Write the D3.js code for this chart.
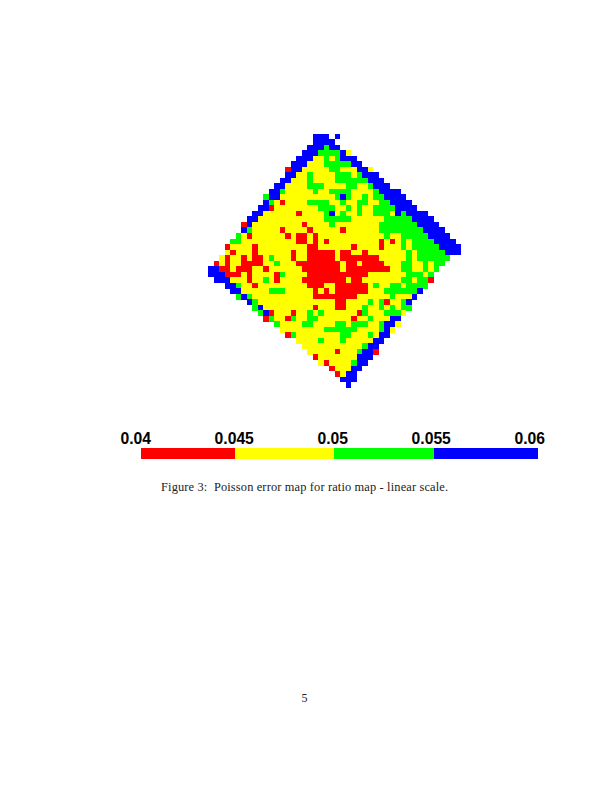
<!DOCTYPE html>
<html><head><meta charset="utf-8">
<script src="https://cdnjs.cloudflare.com/ajax/libs/d3/7.8.5/d3.min.js"></script>
<style>html,body{margin:0;padding:0;background:#fff}svg{display:block}</style>
</head><body><svg id="c" width="612" height="792"></svg>
<script>
// Error-class codes per map cell: R,Y,G,B; "." = no data. Each row starts at rowStart[i].
const rowStart = [19,19,18,17,16,15,14,14,13,12,11,10,10,9,8,7,6,6,5,4,3,3,2,1,0,0,1,3,4,5,7,8,9,10,12,13,14,16,17,18,19,20,22,23,24,25];
const rowCells = [
"BBB.B",
"BBBB",
"BBBGBB",
"BBBGGGGBY",
"BBBYYGYGBBB",
"BBBYYYGGGGGBB",
"RBBYYYYYGGYYYBBY",
"BBYYGYYYYGGGYGBBB",
"BBYYYGYYYYGGGGGGBBB",
"BBYYYYGGGYYYYGGYYGBBB",
"BBGYYYYYGYYGGGGYYYYGBBBB",
"GBBYYYYYYYYYYGBGYYGYGGBBBB",
"BGYRYYYYGGGGYYGYYGGYYGGBBBB",
"BBRYYYYYYYYGGGYYGYGYYGGGGBBBB",
"BBYYYYYYRYYYYGBYGYYGYYGGGYBGBBBB",
"BBYYYYYYYYYYYYGGGGGYYYYYYGGGGGBBBB",
"RBYYYYYYYYYRYYYYGYYYYYYYYGGGGGGGBBBB",
"BGYYYYYRYYYYRYYYYYRYYYYYYGGGGGGGGBBBB",
"GYRYYYYYYRYRRYRYYYYYYYYYYYYGYYGGGGGBBBB",
"GGYYYYYYYYYYRRYRYRYYYYYYYYYRYRYGYGGGGBBBB",
"RYYYYRYYYYYYYYYRRYYYYYYRYYYYRYYYGYGGGGGBBBB",
"YRYYYRYYYYYYRYYRRRRRYRRYYRYYYYYYYGYGGGGGBBB",
"YRYYRYRRYGYYYRYYRRRRRYRRRRRRRYYYYYGYGGGGGG",
"RYRYYRRRRYYGYYYRRRRRRRRYRRYRRRRYYYGGYYGYGG",
"BBRRYRRRYYRYYYYYYRRRRRRRYRRRRRRRRYYGGYYGYG",
"BBBRRRYRYYYYRGYYYYRRRRRRRRRRRYYYYYYYGGGYG",
"BBBYYYRYYGYRYYYYRRRRRRRRYRRYYYYYYYGGYGGR",
"BBGYYRYYYYYYYYYRRRYYRRRRRRYGYYGGYGGGG",
"BBYYYYYGGGYYYYYRYRYRRRRRRYYYGGGGGGB",
"GBGYYYYYYYYYYYRRRRRRRRYYYYYYGYYYB",
"BGYYYYYYYYYYYYYYRRYYYYGYGRYYGB",
"GBYYYYYYYYYRYYYRRYYYGYYGYGYGG",
"GBRYYYRYYGYGYYYYYYRGYYYGGGY",
"RGYYRGYYGGYYYYYYRYYGYYYBB",
"GYYYYGGYYYYGGYGGGYYGBBY",
"YYYYYYYYGGGGGGYYYYGBY",
"RGYYYYYYYYGGYYYGYBB",
"YYYYGYYYGYYYYYBB",
"YYYYYYYYYYYGBB",
"YYYYYRYYYGBBR",
"RYYYYYYYBBB",
"YRYYYYGBB",
"RYYYBB",
"RYBB",
"BBB",
"B"
];
// Colour bar: class names, band edges on the value scale, tick labels
const classes = ["R","Y","G","B"];
const classColors = ["#ff0000","#ffff00","#00ff00","#0000ff"];
const barEdges = [0.04025,0.04503,0.05005,0.05513,0.06041];
const tickValues = [0.04,0.045,0.05,0.055,0.06];
const tickLabels = ["0.04","0.045","0.05","0.055","0.06"];
const caption = "Figure 3:  Poisson error map for ratio map - linear scale.";
const pageNo = "5";

const svg = d3.select("#c");
const idx = d3.range(46);
const xs = d3.scaleBand().domain(idx).range([208,461]);
const ys = d3.scaleBand().domain(idx).range([133.6,387.6]);
const color = d3.scaleOrdinal(classes, classColors);

const cells = rowCells.flatMap((s,r)=>Array.from(s,(k,i)=>({r,c:rowStart[r]+i,k}))).filter(d=>d.k!==".");
svg.append("g").attr("shape-rendering","crispEdges").selectAll("rect").data(cells).join("rect")
  .attr("x",d=>xs(d.c)).attr("y",d=>ys(d.r))
  .attr("width",xs.bandwidth()+0.3).attr("height",ys.bandwidth()+0.3)
  .attr("fill",d=>color(d.k));

const bar = d3.scaleLinear().domain([0.04,0.06]).range([136,530]);
svg.append("g").attr("shape-rendering","crispEdges").selectAll("rect").data(classes).join("rect")
  .attr("x",(d,i)=>bar(barEdges[i])).attr("width",(d,i)=>bar(barEdges[i+1])-bar(barEdges[i]))
  .attr("y",448).attr("height",11).attr("fill",d=>color(d));

const axis = d3.axisTop(bar).tickValues(tickValues).tickFormat((d,i)=>tickLabels[i]).tickSize(0).tickPadding(0);
const ag = svg.append("g").attr("transform","translate(-0.8,444)").call(axis);
ag.select(".domain").remove();
ag.selectAll("text").attr("y",0).attr("dy",0).attr("font-family","'Liberation Sans',Arial,sans-serif")
  .attr("font-weight","bold").attr("font-size",15.7).attr("fill","#000");

svg.append("text").attr("x",161).attr("y",491).attr("font-family","'Liberation Serif',serif")
  .attr("font-size",12.4).attr("fill","#222").attr("textLength",287).attr("lengthAdjust","spacing")
  .attr("xml:space","preserve").text(caption);
svg.append("text").attr("x",304.5).attr("y",702).attr("text-anchor","middle").attr("font-family","'Liberation Serif',serif")
  .attr("font-size",12).attr("fill","#222").text(pageNo);
</script></body></html>
